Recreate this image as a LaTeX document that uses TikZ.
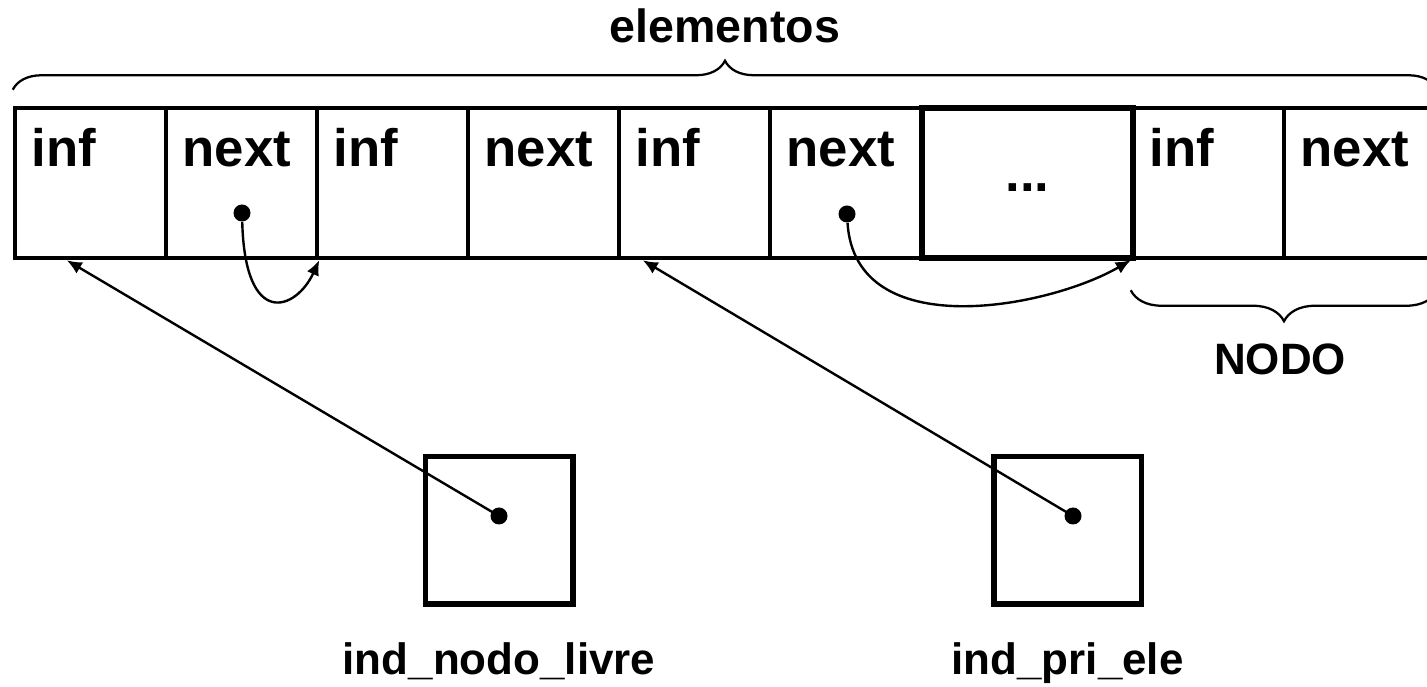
\documentclass[tikz,border=0pt]{standalone}
\usepackage{fontspec}
\setmainfont{Liberation Sans}
\usetikzlibrary{arrows.meta,decorations.pathreplacing}
\tikzset{
  celula/.style={draw, line width=0.09cm, minimum width=3.02cm, minimum height=3cm, inner sep=0},
  ptr/.style={line width=0.048cm, -{Latex[length=0.3cm,width=0.26cm]}},
  ponto/.style={circle, fill, inner sep=0, minimum size=0.34cm},
  chave/.style={decorate, line width=0.045cm, decoration={brace, amplitude=#1}},
  rotulo/.style={font=\fontsize{25}{30}\selectfont\bfseries, inner sep=0, anchor=base},
  grande/.style={font=\fontsize{30}{36}\selectfont\bfseries}
}
\newcommand{\campo}[4]{\node[celula] (#1) at (#2,#3) {};\node[grande, anchor=base west, inner sep=0] (#1txt) at ([xshift=0.37cm,yshift=-1.22cm]#1.north west) {#4};}
\newcommand{\indice}[4]{\node[draw, line width=0.11cm, minimum size=2.95cm] (#1) at (#2,#3) {};\node[rotulo] (#1txt) at ([yshift=-2.89cm]#1.center) {#4};}

\begin{document}
\begin{tikzpicture}
    \useasboundingbox (0,0) rectangle (28.54,13.74);
    \clip (0,0) rectangle (28.54,13.74);
    \campo{inf1}{1.81}{10.08}{inf}    \campo{next1}{4.83}{10.08}{next}
    \campo{inf2}{7.85}{10.08}{inf}    \campo{next2}{10.87}{10.08}{next}
    \campo{inf3}{13.89}{10.08}{inf}   \campo{next3}{16.91}{10.08}{next}
    \campo{infN}{24.17}{10.08}{inf}   \campo{nextN}{27.19}{10.08}{next}
    \node[celula, grande, line width=0.12cm, minimum width=4.22cm, text height=0.36cm, text depth=0cm] (meio) at (20.55,10.08) {...};

    \draw[chave=0.58cm] ([yshift=0.32cm]inf1.north west) -- ([yshift=0.32cm]nextN.north east);
    \node[rotulo, font=\fontsize{26.5}{30}\selectfont\bfseries] (elem) at (14.5,12.88) {elementos};
    \draw[chave=0.62cm, decoration={mirror}] ([yshift=-0.6cm]infN.south west) -- ([yshift=-0.6cm]nextN.south east);
    \node[rotulo] (nodo) at (25.6,6.24) {NODO};

    \node[ponto] (p1) at (4.84,9.48) {};   \node[ponto] (p3) at (16.94,9.46) {};
    \draw[ptr] (p1) .. controls +(0.06,-2.34) and +(-0.46,-1.0) .. (next1.south east);
    \draw[ptr] (p3) .. controls +(0.16,-2.62) and +(-1.66,-0.96) .. (infN.south west);

    \indice{ind1}{9.98}{3.13}{ind\_nodo\_livre}
    \indice{ind2}{21.35}{3.13}{ind\_pri\_ele}
    \node[ponto] (q1) at (9.98,3.42) {};   \node[ponto] (q2) at (21.46,3.42) {};
    \coordinate (t1) at ([xshift=1.08cm]inf1.south west);
    \coordinate (t2) at ([xshift=0.52cm]inf3.south west);
    \draw[ptr] (q1.center) -- (t1);
    \draw[ptr] (q2.center) -- (t2);
\end{tikzpicture}
\end{document}
